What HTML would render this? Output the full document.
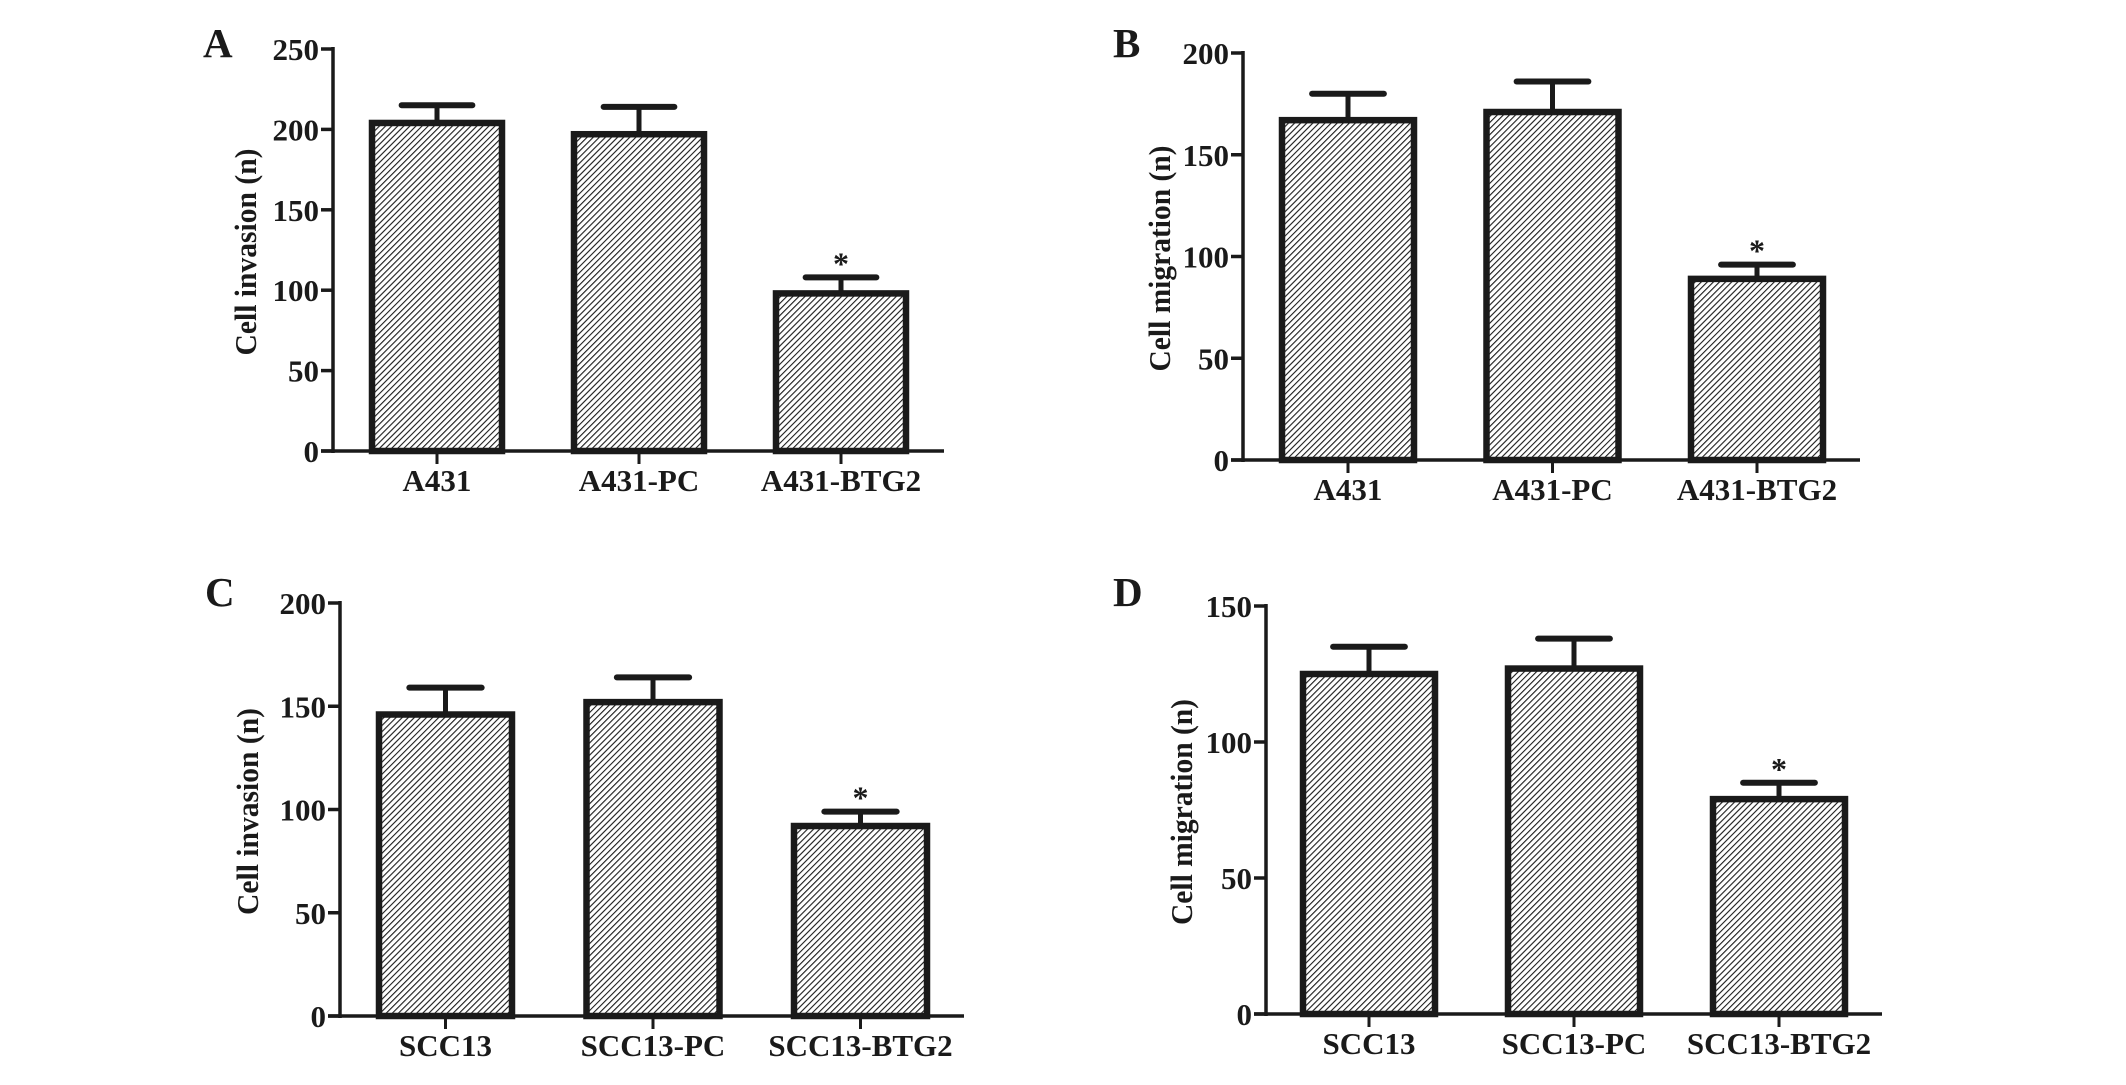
<!DOCTYPE html>
<html><head><meta charset="utf-8">
<style>
html,body{margin:0;padding:0;background:#fff;}
svg{display:block;}
text{font-family:"Liberation Serif","Times New Roman",serif;font-weight:bold;fill:#1a1a1a;}
</style></head>
<body>
<svg id="chart" width="2126" height="1085" viewBox="0 0 2126 1085" xmlns="http://www.w3.org/2000/svg">
<defs>
<pattern id="hatch" patternUnits="userSpaceOnUse" width="4.3" height="4.3" patternTransform="rotate(45)">
<rect width="4.3" height="4.3" fill="#fff"/>
<line x1="0" y1="0" x2="0" y2="4.3" stroke="#1a1a1a" stroke-width="2.2"/>
</pattern>
</defs>
</svg>
<script>
// Panel A
const catsA = ["A431","A431-PC","A431-BTG2"];
const valsA = [204,197,98];
const errsA = [215,214,108];
const ticksA = [0,50,100,150,200,250];
// Panel B
const catsB = ["A431","A431-PC","A431-BTG2"];
const valsB = [167,171,89];
const errsB = [180,186,96];
const ticksB = [0,50,100,150,200];
// Panel C
const catsC = ["SCC13","SCC13-PC","SCC13-BTG2"];
const valsC = [146,152,92];
const errsC = [159,164,99];
const ticksC = [0,50,100,150,200];
// Panel D
const catsD = ["SCC13","SCC13-PC","SCC13-BTG2"];
const valsD = [125,127,79];
const errsD = [135,138,85];
const ticksD = [0,50,100,150];
const sigFlags = [false,false,true];

const svg = document.getElementById('chart');
const NS = 'http://www.w3.org/2000/svg';
function mk(tag, attrs, parent){
  const e = document.createElementNS(NS, tag);
  for (const k in attrs) e.setAttribute(k, attrs[k]);
  parent.appendChild(e);
  return e;
}

const panels = [
  {letter:"A", title:"Cell invasion (n)", cats:catsA, vals:valsA, errs:errsA, ticks:ticksA,
   ax:333, y0:451, yTop:49, xEnd:944, bx0:369, step:202, bw:136, lx:203, ly:57, titleX:256, titleLen:207},
  {letter:"B", title:"Cell migration (n)", cats:catsB, vals:valsB, errs:errsB, ticks:ticksB,
   ax:1243, y0:460, yTop:53, xEnd:1860, bx0:1279, step:204.5, bw:138, lx:1113, ly:57, titleX:1170, titleLen:226},
  {letter:"C", title:"Cell invasion (n)", cats:catsC, vals:valsC, errs:errsC, ticks:ticksC,
   ax:340, y0:1016, yTop:603, xEnd:964, bx0:376, step:207.5, bw:139, lx:205, ly:606, titleX:258, titleLen:207},
  {letter:"D", title:"Cell migration (n)", cats:catsD, vals:valsD, errs:errsD, ticks:ticksD,
   ax:1266, y0:1014, yTop:606, xEnd:1882, bx0:1300, step:205, bw:138, lx:1113, ly:606, titleX:1192, titleLen:226}
];

panels.forEach(p => {
  const g = mk('g', {}, svg);
  
  
  const tmax = p.ticks[p.ticks.length-1];
  const yScale = v => p.y0 - (v / tmax) * (p.y0 - p.yTop);
  const xCenter = i => p.bx0 + i * p.step + p.bw / 2;

  const lt = mk('text', {x:p.lx, y:p.ly, 'font-size':41}, g);
  lt.textContent = p.letter;
  
  

  p.vals.forEach((v, i) => {
    const xc = xCenter(i);
    const top = yScale(v);
    const eTop = yScale(p.errs[i]);
    const ln = mk('line', {x1:xc, y1:top, x2:xc, y2:eTop, stroke:'#1a1a1a', 'stroke-width':5}, g);
    
    
    const cap = mk('line', {x1:xc - p.bw*0.26, y1:eTop, x2:xc + p.bw*0.26, y2:eTop, stroke:'#1a1a1a', 'stroke-width':6, 'stroke-linecap':'round'}, g);
    
    
    const r = mk('rect', {x:xc - p.bw/2 + 3, y:top, width:p.bw - 6, height:p.y0 - top, fill:'url(#hatch)', stroke:'#1a1a1a', 'stroke-width':6.5}, g);
    
    
    if (sigFlags[i]) {
      const s = mk('text', {x:xc, y:eTop - 3, 'font-size':32, 'text-anchor':'middle'}, g);
      s.textContent = '*';
      
      
    }
    const tk = mk('line', {x1:xc, y1:p.y0, x2:xc, y2:p.y0 + 13, stroke:'#1a1a1a', 'stroke-width':3}, g);
    
    
    const cl = mk('text', {x:xc, y:p.y0 + 40, 'font-size':31, 'text-anchor':'middle'}, g);
    cl.textContent = p.cats[i];
    
    
  });

  const ya = mk('line', {x1:p.ax, y1:p.yTop - 2, x2:p.ax, y2:p.y0 + 2, stroke:'#1a1a1a', 'stroke-width':3.5}, g);
  
  
  const xa = mk('line', {x1:p.ax - 12, y1:p.y0, x2:p.xEnd, y2:p.y0, stroke:'#1a1a1a', 'stroke-width':3.5}, g);
  
  
  p.ticks.forEach(t => {
    const y = yScale(t);
    const tl = mk('line', {x1:p.ax - 12, y1:y, x2:p.ax, y2:y, stroke:'#1a1a1a', 'stroke-width':3.5}, g);
    
    
    const tx = mk('text', {x:p.ax - 14, y:y + 11, 'font-size':31, 'text-anchor':'end'}, g);
    tx.textContent = t;
    
    
  });
  const cy = (p.y0 + p.yTop) / 2 + 2;
  const tt = mk('text', {x:0, y:0, 'font-size':31, 'text-anchor':'middle', transform:'translate(' + p.titleX + ',' + cy + ') rotate(-90)', textLength:p.titleLen, lengthAdjust:'spacingAndGlyphs'}, g);
  tt.textContent = p.title;
  
  
});
</script>
</body></html>
